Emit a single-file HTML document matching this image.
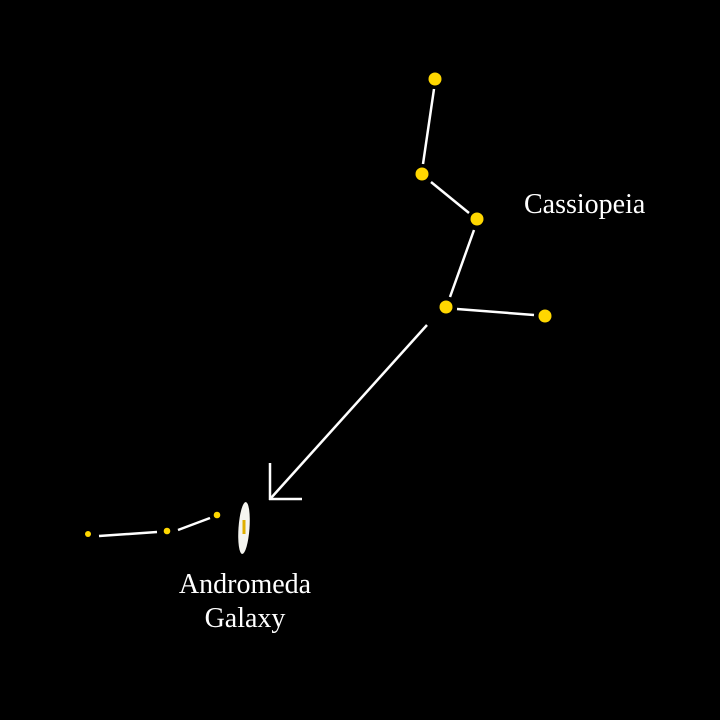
<!DOCTYPE html>
<html><head><style>body{margin:0;background:#000}</style></head><body>
<svg width="720" height="720" xmlns="http://www.w3.org/2000/svg" style="display:block">
<rect width="720" height="720" fill="#000"/>
<g stroke="#fff" stroke-width="2.5" stroke-linecap="butt" fill="none">
<line x1="434" y1="89" x2="423" y2="164"/>
<line x1="431" y1="182" x2="469" y2="213"/>
<line x1="474" y1="230" x2="450" y2="297"/>
<line x1="457" y1="309" x2="534" y2="315"/>
<line x1="427" y1="325" x2="271" y2="498"/>
<line x1="270" y1="463" x2="270" y2="500"/>
<line x1="269" y1="499" x2="302" y2="499"/>
<line x1="99" y1="536" x2="157" y2="532"/>
<line x1="178" y1="530" x2="210" y2="518"/>
</g>
<g fill="#FFD700">
<circle cx="435" cy="79" r="6.5"/>
<circle cx="422" cy="174" r="6.5"/>
<circle cx="477" cy="219" r="6.5"/>
<circle cx="446" cy="307" r="6.5"/>
<circle cx="545" cy="316" r="6.5"/>
<circle cx="88" cy="534" r="3"/>
<circle cx="167" cy="531" r="3.3"/>
<circle cx="217" cy="515" r="3.3"/>
</g>
<ellipse cx="244" cy="528" rx="5.5" ry="26" fill="#f5f5f0" transform="rotate(4 244 528)"/>
<rect x="242.5" y="520" width="3" height="14" fill="#e0b000"/>
<g font-family="Liberation Serif, serif" font-size="28" fill="#fff">
<text x="524" y="213">Cassiopeia</text>
<text x="245" y="593" text-anchor="middle">Andromeda</text>
<text x="245" y="627" text-anchor="middle">Galaxy</text>
</g>
</svg>
</body></html>
